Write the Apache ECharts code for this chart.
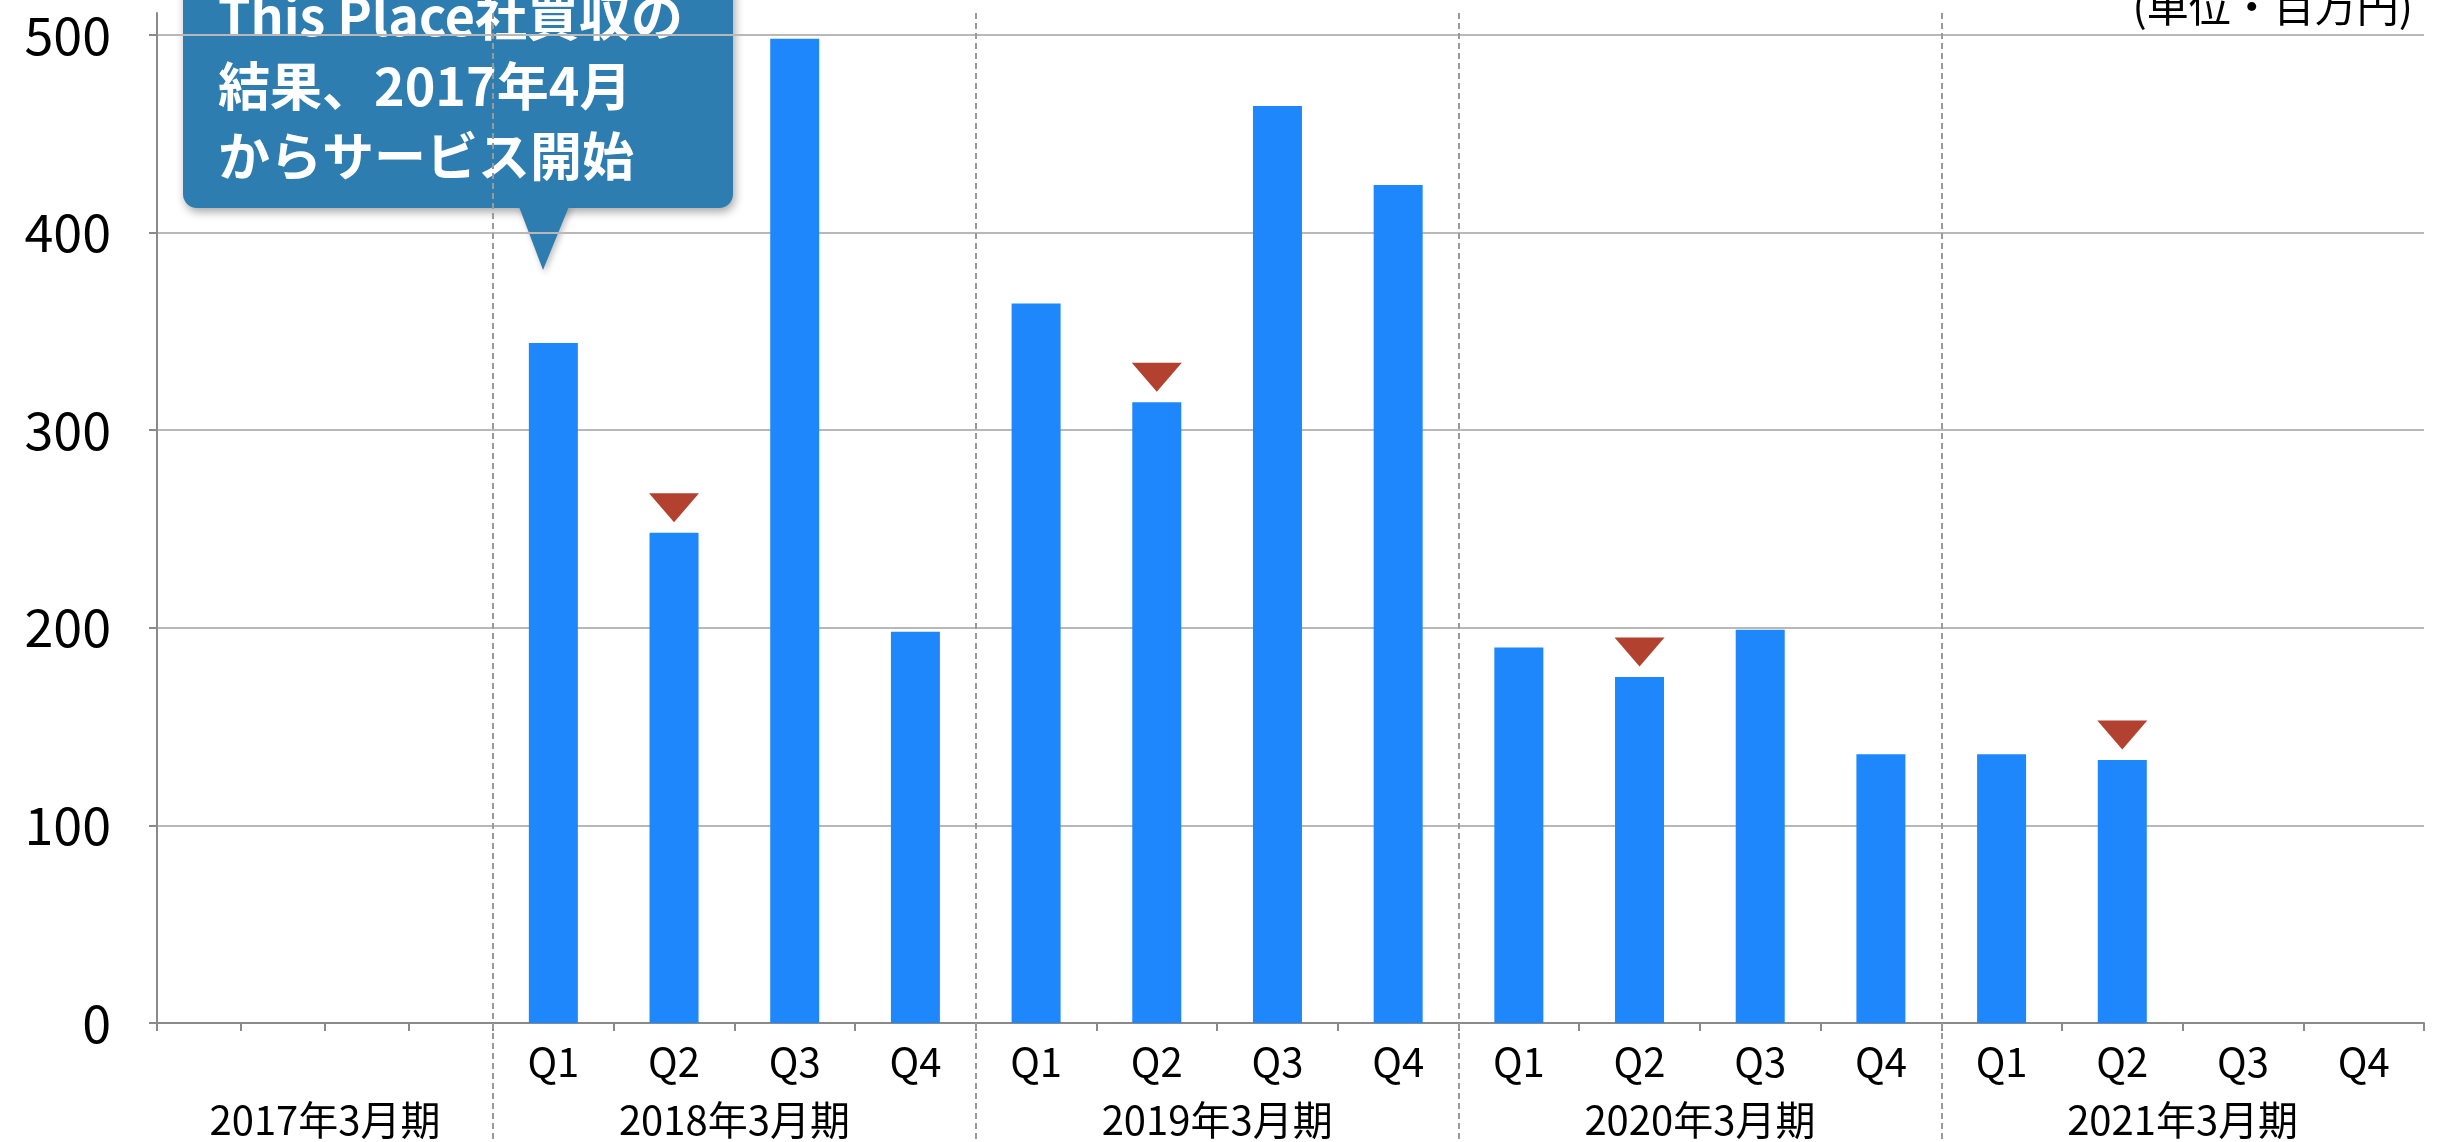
<!DOCTYPE html>
<html>
<head>
<meta charset="utf-8">
<title>四半期売上推移</title>
<script src="https://cdn.jsdelivr.net/npm/echarts@6.0.0/dist/echarts.min.js"></script>
<style>
  html, body { margin: 0; padding: 0; background: #fff; }
  #chart { width: 2437px; height: 1142px; }
</style>
</head>
<body>
<div id="chart"></div>
<script>
  // 決算期（2017年3月期はデータなし）
  const years = ['2017年3月期', '2018年3月期', '2019年3月期', '2020年3月期', '2021年3月期']
  const quarters = ['Q1', 'Q2', 'Q3', 'Q4']
  // 四半期売上（百万円）2018年3月期Q1 〜 2021年3月期Q4
  const sales = [344, 248, 498, 198, 364, 314, 464, 424, 190, 175, 199, 136, 136, 133, null, null]
  // ▼マークを付ける四半期（salesの添字）
  const dropIdx = [1, 5, 9, 13]
  const yTicks = [0, 100, 200, 300, 400, 500]
  const note = ['This Place社買収の', '結果、2017年4月', 'からサービス開始']
  const unitLabel = '(単位・百万円)'

  const FONT = '"Noto Sans CJK JP", "Noto Sans", sans-serif'
  const axisGray = '#8a8a8a'
  const gridGray = '#b8b8b8'

  // 2018〜2021年3月期の16四半期
  const quarterCats = []
  for (let y = 1; y < years.length; y++) {
    quarters.forEach(q => quarterCats.push(q))
  }

  const chart = echarts.init(document.getElementById('chart'), null, { renderer: 'canvas' })

  const yBase = {
    type: 'value',
    min: 0,
    max: 511,
    interval: 100,
    splitLine: { show: true, lineStyle: { color: gridGray, width: 2 } },
  }

  chart.setOption({
    animation: false,
    backgroundColor: '#fff',
    grid: [
      { left: 157, width: 336, top: 13, bottom: 119, containLabel: false, outerBoundsMode: 'none' },
      { left: 493, right: 13, top: 13, bottom: 119, containLabel: false, outerBoundsMode: 'none' },
    ],
    xAxis: [
      {
        gridIndex: 0,
        type: 'category',
        position: 'bottom',
        data: ['', '', '', ''],
        axisLine: { show: true, lineStyle: { color: axisGray, width: 2 } },
        axisTick: { show: true, interval: 0, length: 8, lineStyle: { color: axisGray, width: 2 } },
        axisLabel: { show: false },
        splitLine: { show: false },
      },
      {
        gridIndex: 0,
        type: 'category',
        position: 'bottom',
        offset: 0,
        data: [years[0]],
        axisLine: { show: false },
        axisTick: { show: false },
        axisLabel: { margin: 77, fontSize: 40, color: '#000', fontFamily: FONT },
        splitLine: { show: false },
      },
      {
        gridIndex: 1,
        type: 'category',
        position: 'bottom',
        data: quarterCats,
        axisLine: { show: true, lineStyle: { color: axisGray, width: 2 } },
        axisTick: { show: true, interval: 0, length: 8, lineStyle: { color: axisGray, width: 2 } },
        axisLabel: { interval: 0, margin: 19, fontSize: 40, color: '#000', fontFamily: FONT },
        splitLine: { show: false },
      },
      {
        // 年度区切り（破線）と決算期ラベル
        gridIndex: 1,
        type: 'value',
        position: 'bottom',
        offset: 0,
        min: 0,
        max: 16,
        interval: 4,
        axisLine: { show: false },
        axisTick: {
          show: true,
          customValues: [0, 4, 8, 12],
          length: 122,
          lineStyle: { color: '#9a9a9a', width: 2, type: [6, 4] },
        },
        splitLine: {
          show: true,
          lineStyle: { color: '#9a9a9a', width: 2, type: [6, 4] },
        },
        axisLabel: {
          customValues: [2, 6, 10, 14],
          formatter: v => years[(v - 2) / 4 + 1] || '',
          margin: 77,
          fontSize: 40,
          color: '#000',
          fontFamily: FONT,
        },
      },
    ],
    yAxis: [
      Object.assign({}, yBase, {
        gridIndex: 0,
        axisLine: { show: true, lineStyle: { color: axisGray, width: 2 } },
        axisTick: { show: true, length: 8, customValues: yTicks, lineStyle: { color: axisGray, width: 2 } },
        axisLabel: {
          customValues: yTicks,
          margin: 46,
          fontSize: 52,
          color: '#000',
          fontFamily: FONT,
        },
      }),
      Object.assign({}, yBase, {
        gridIndex: 1,
        axisLine: { show: false },
        axisTick: { show: false, customValues: yTicks },
        axisLabel: { show: false, customValues: yTicks },
      }),
    ],
    series: [
      {
        type: 'bar',
        xAxisIndex: 2,
        yAxisIndex: 1,
        data: sales.map(v => (v == null ? '-' : v)),
        barWidth: 49,
        itemStyle: { color: '#1e87fb' },
        silent: true,
      },
      {
        type: 'scatter',
        xAxisIndex: 2,
        yAxisIndex: 1,
        data: dropIdx.map(i => [i, sales[i]]),
        symbol: 'triangle',
        symbolRotate: 180,
        symbolSize: [50, 29],
        symbolOffset: [0, -25],
        itemStyle: { color: '#b2412f', opacity: 1 },
        z: 5,
        silent: true,
      },
    ],
    graphic: [
      {
        type: 'group',
        z: 100,
        children: [
          {
            type: 'rect',
            shape: { x: 183, y: -40, width: 550, height: 248, r: 14 },
            style: {
              fill: '#2d7db1',
              shadowBlur: 10,
              shadowOffsetX: 2,
              shadowOffsetY: 4,
              shadowColor: 'rgba(0,0,0,0.35)',
            },
          },
          {
            type: 'polygon',
            shape: { points: [[518, 204], [570, 204], [543, 270]] },
            style: {
              fill: '#2d7db1',
              shadowBlur: 6,
              shadowOffsetX: 2,
              shadowOffsetY: 3,
              shadowColor: 'rgba(0,0,0,0.25)',
            },
          },
          {
            type: 'rect',
            shape: { x: 515, y: 190, width: 58, height: 18 },
            style: { fill: '#2d7db1' },
          },
          {
            type: 'text',
            x: 218,
            y: 86,
            style: {
              text: note.join('\n'),
              fill: '#fff',
              fontSize: 52,
              fontWeight: 'bold',
              fontFamily: FONT,
              lineHeight: 70,
              verticalAlign: 'middle',
              align: 'left',
            },
          },
        ],
      },
      {
        type: 'text',
        z: 100,
        x: 2413,
        y: 6,
        style: {
          text: unitLabel,
          fill: '#000',
          fontSize: 42,
          fontFamily: FONT,
          align: 'right',
          verticalAlign: 'middle',
        },
      },
    ],
  })
</script>
</body>
</html>
